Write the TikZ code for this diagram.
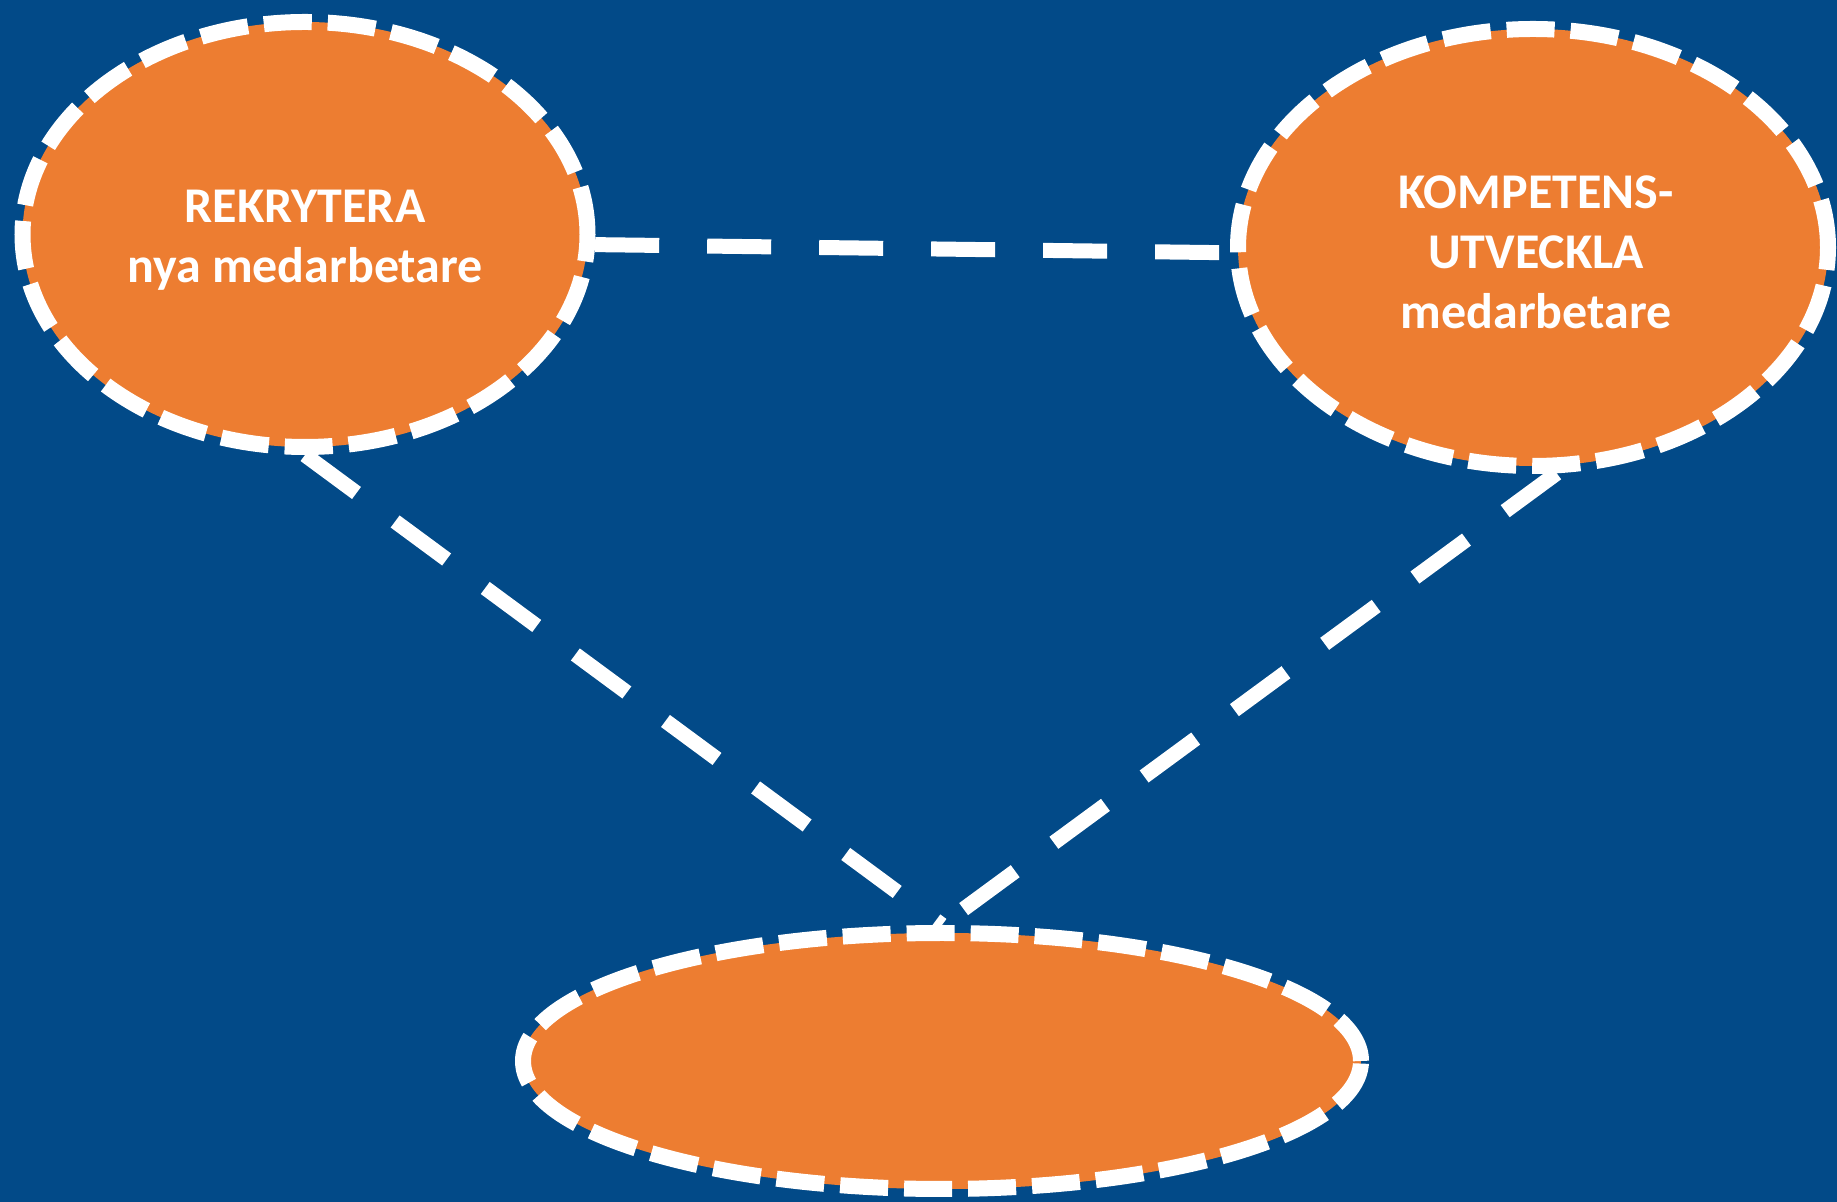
\documentclass[tikz,border=0pt]{standalone}
\usepackage{fontspec}
\setmainfont{Carlito}
\usetikzlibrary{shapes.geometric}
\definecolor{bg}{HTML}{024A88}
\definecolor{og}{HTML}{ED7D31}
\begin{document}
\begin{tikzpicture}[x=1pt,y=1pt,
 blob/.style={ellipse, fill=og, draw=white, line width=16pt, dash pattern=on 48pt off 16pt, inner sep=0pt},
 label text/.style={text=white, font=\bfseries\fontsize{50}{60}\selectfont, align=center, inner sep=0pt},
 link/.style={draw=white, line width=15pt, dash pattern=on 64pt off 48pt}]
\fill[bg] (0,0) rectangle (1837,1202);
\useasboundingbox (0,0) rectangle (1837,1202);
\node[blob, minimum width=565pt, minimum height=425pt] (L) at (305,967.5) {};
\node[blob, minimum width=590pt, minimum height=437pt] (R) at (1533,954.5) {};
\node[blob, minimum width=838pt, minimum height=256pt] (B) at (942,141) {};
\node[label text] (Lt) at ([yshift=-6pt]L.center) {REKRYTERA\\nya medarbetare};
\node[label text] (Rt) at ([yshift=-5pt, xshift=3pt]R.center) {KOMPETENS-\\UTVECKLA\\medarbetare};
\draw[link] (L.-2) -- (R.181);
\draw[link] (L.south) -- (B.north);
\draw[link] (R.-84) -- (B.north);
\end{tikzpicture}
\end{document}
